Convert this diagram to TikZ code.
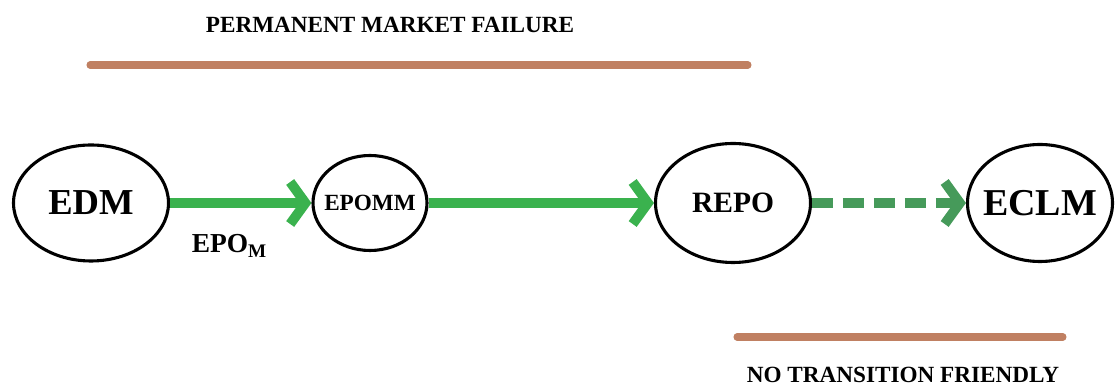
\documentclass[tikz,border=0pt]{standalone}
\usepackage{fontspec}
\setmainfont{Liberation Serif}
\usetikzlibrary{shapes.geometric,arrows.meta}

\definecolor{flowgreen}{RGB}{58,178,78}
\definecolor{dashgreen}{RGB}{70,154,90}
\definecolor{barbrown}{RGB}{192,128,98}

\begin{document}
\begin{tikzpicture}
% Diagram style
\tikzset{
    phase/.style={ellipse, draw, line width=2.2pt, inner sep=0pt},
    flow/.style={flowgreen, line width=7pt, -{Straight Barb[length=0.38cm,width=1.05cm]}},
    bar/.style={barbrown, line width=5pt, line cap=round},
    caption/.style={font=\bfseries\fontsize{16.5}{19}\selectfont}
}
\useasboundingbox (0,0) rectangle (27.875,9.675);
% Phases
\node[phase, minimum width=3.875cm, minimum height=2.9cm, font=\bfseries\fontsize{26}{30}\selectfont] (EDM) at (2.275,4.6){EDM};
\node[phase, minimum width=2.85cm, minimum height=2.375cm, font=\bfseries\fontsize{16.5}{19}\selectfont] (EPOMM) at (9.25,4.6){\makebox[0pt]{EPOMM}};
\node[phase, minimum width=3.875cm, minimum height=2.975cm, font=\bfseries\fontsize{21}{25}\selectfont] (REPO) at (18.325,4.6){REPO};
\node[phase, minimum width=3.625cm, minimum height=2.925cm, font=\bfseries\fontsize{27}{31}\selectfont] (ECLM) at (26.0,4.6){\makebox[0pt]{ECLM}};
% Connection
\draw[flow] (EDM) -- (EPOMM) node[pos=0.42, below=0.55cm, text=black, font=\bfseries\fontsize{19.5}{23}\selectfont]{EPO\textsubscript{M}};
\draw[flow] (EPOMM) -- (REPO);
\draw[flow, dashgreen, dash pattern=on 15pt off 7pt] (REPO) -- (ECLM);
% Bars and captions
\coordinate (FailL) at (2.25,8.05);
\coordinate (FailR) at (18.7,8.05);
\draw[bar] (FailL) -- (FailR);
\node[caption] (Fail) at (9.75,9.05){PERMANENT MARKET FAILURE};
\coordinate (TransL) at (18.425,1.25);
\coordinate (TransR) at (26.575,1.25);
\draw[bar] (TransL) -- (TransR);
\node[caption] (Trans) at (22.575,0.3){NO TRANSITION FRIENDLY};
\end{tikzpicture}
\end{document}
